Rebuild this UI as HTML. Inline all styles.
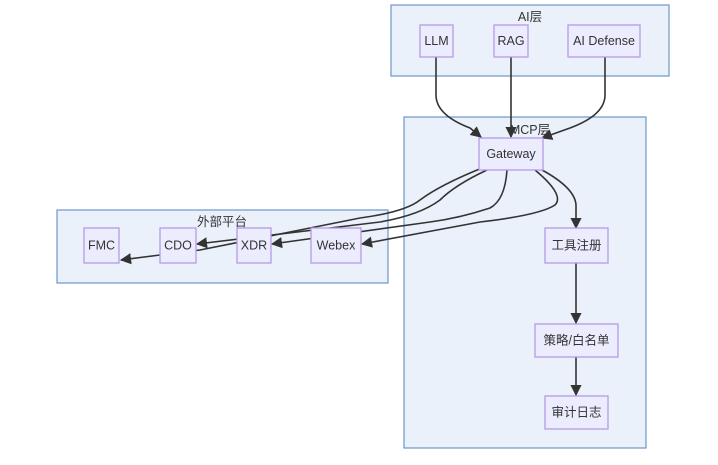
<!DOCTYPE html>
<html><head><meta charset="utf-8"><style>
html,body{margin:0;padding:0;background:#fff}
svg{display:block}
text{font-family:"Liberation Sans","Noto Sans CJK SC",sans-serif;font-size:12.5px;fill:#333;text-anchor:middle;dominant-baseline:central}
.c{fill:#ebf1fb;stroke:#6b97c8;stroke-width:1.2}
.n{fill:#ececff;stroke:#b79ae6;stroke-width:1.3}
.e{fill:none;stroke:#333;stroke-width:1.6}
</style></head><body>
<svg width="718" height="465" viewBox="0 0 718 465">
<defs><marker id="a" viewBox="0 0 10 10" refX="9" refY="5" markerWidth="7" markerHeight="7" orient="auto"><path d="M0,0L10,5L0,10z" fill="#333"/></marker></defs>
<rect class="c" x="391" y="5" width="278" height="71"/>
<text x="530" y="17">AI层</text>
<rect class="c" x="404" y="117" width="242" height="331"/>
<rect class="c" x="57" y="210" width="331" height="73"/>
<text x="222" y="222">外部平台</text>
<path class="e" marker-end="url(#a)" d="M436,57 V95 Q436,115 470,128 L481,137"/>
<path class="e" marker-end="url(#a)" d="M511,57 V137"/>
<path class="e" marker-end="url(#a)" d="M605,57 V95 Q605,115 570,128 L542,138"/>
<path class="e" marker-end="url(#a)" d="M482,168 Q440,185 420,200 Q405,212 360,218 L200,250 L160,255 L121,260"/>
<path class="e" marker-end="url(#a)" d="M487,170 Q455,185 440,200 Q420,215 380,222 L197,244"/>
<path class="e" marker-end="url(#a)" d="M507,170 Q505,200 490,208 Q460,218 430,222 L272,244"/>
<path class="e" marker-end="url(#a)" d="M535,170 Q565,195 555,205 Q540,215 480,222 L362,244"/>
<path class="e" marker-end="url(#a)" d="M542,170 Q575,188 576,205 V228"/>
<path class="e" marker-end="url(#a)" d="M576,263 V323"/>
<path class="e" marker-end="url(#a)" d="M576,357 V395"/>
<text x="530" y="130">MCP层</text>
<rect class="n" x="420" y="25" width="33" height="32"/><text x="436.5" y="41">LLM</text>
<rect class="n" x="494" y="25" width="34" height="32"/><text x="511" y="41">RAG</text>
<rect class="n" x="568" y="25" width="72" height="32"/><text x="604" y="41">AI Defense</text>
<rect class="n" x="479" y="138" width="64" height="32"/><text x="511" y="154">Gateway</text>
<rect class="n" x="545" y="228" width="63" height="35"/><text x="576.5" y="245.5">工具注册</text>
<rect class="n" x="535" y="324" width="83" height="33"/><text x="576.5" y="340.5">策略/白名单</text>
<rect class="n" x="545" y="396" width="63" height="33"/><text x="576.5" y="412.5">审计日志</text>
<rect class="n" x="84" y="228" width="35" height="35"/><text x="101.5" y="245.5">FMC</text>
<rect class="n" x="160" y="228" width="36" height="35"/><text x="178" y="245.5">CDO</text>
<rect class="n" x="237" y="228" width="34" height="35"/><text x="254" y="245.5">XDR</text>
<rect class="n" x="311" y="228" width="50" height="35"/><text x="336" y="245.5">Webex</text>
</svg>
</body></html>
